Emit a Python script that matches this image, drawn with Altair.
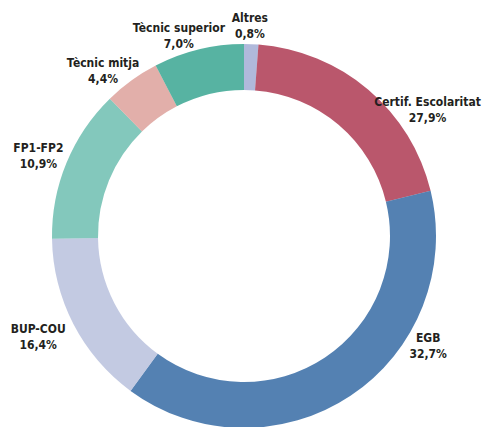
import altair as alt
import pandas as pd

# Categories in drawing order (clockwise from 12 o'clock)
categories = ["Altres", "Certif. Escolaritat", "EGB", "BUP-COU", "FP1-FP2",
              "Tècnic mitja", "Tècnic superior"]
# Percent labels printed on the chart
label_pct = ["0,8%", "27,9%", "32,7%", "16,4%", "10,9%", "4,4%", "7,0%"]
# Arc shares as drawn in the picture (estimated, %)
drawn_share = [1.2, 20.0, 38.8, 14.7, 12.9, 4.7, 7.6]
# Dot colours of each segment
colors = ["#8e9bcc", "#9c0f2e", "#0c4c92", "#aab3d6", "#4fb0a0", "#d68d86", "#0f937a"]

# Label placement (angle clockwise from top in degrees, distance from centre in px)
label_angle = [1.6, 55.4, 120.6, 244.0, 291.5, 319.7, 342.0]
label_radius = [211, 223, 214, 229, 221, 218, 211]

df = pd.DataFrame({
    "cat": categories,
    "pct": label_pct,
    "share": drawn_share,
    "idx": list(range(len(categories))),
    "la": label_angle,
    "lr": label_radius,
})

W, H = 476, 419
CX, CY = 236, 228

base = alt.Chart(df)

arcs = base.mark_arc(innerRadius=146, outerRadius=192, fillOpacity=0.7).encode(
    theta=alt.Theta("share:Q", stack=True),
    order=alt.Order("idx:Q"),
    color=alt.Color("cat:N", scale=alt.Scale(domain=categories, range=colors), legend=None),
    x=alt.value(CX),
    y=alt.value(CY),
)

labels = base.transform_calculate(
    rad="datum.la * PI / 180",
    txt="[datum.cat, datum.pct]",
).mark_text(
    font="DejaVu Sans Condensed, Liberation Sans Narrow, sans-serif",
    fontWeight="bold",
    fontSize=12,
    color="#231f20",
    lineHeight=16,
    align="center",
    baseline="middle",
    dy=-7,
).encode(
    theta=alt.Theta("rad:Q", scale=None),
    radius=alt.Radius("lr:Q", scale=None),
    text="txt:N",
    x=alt.value(CX),
    y=alt.value(CY),
)

chart = alt.layer(arcs, labels).properties(
    width=W, height=H, padding=0,
    autosize=alt.AutoSizeParams(type="none"),
).configure_view(stroke=None)

chart.save("out.html", embed_options={"renderer": "svg", "actions": False})
